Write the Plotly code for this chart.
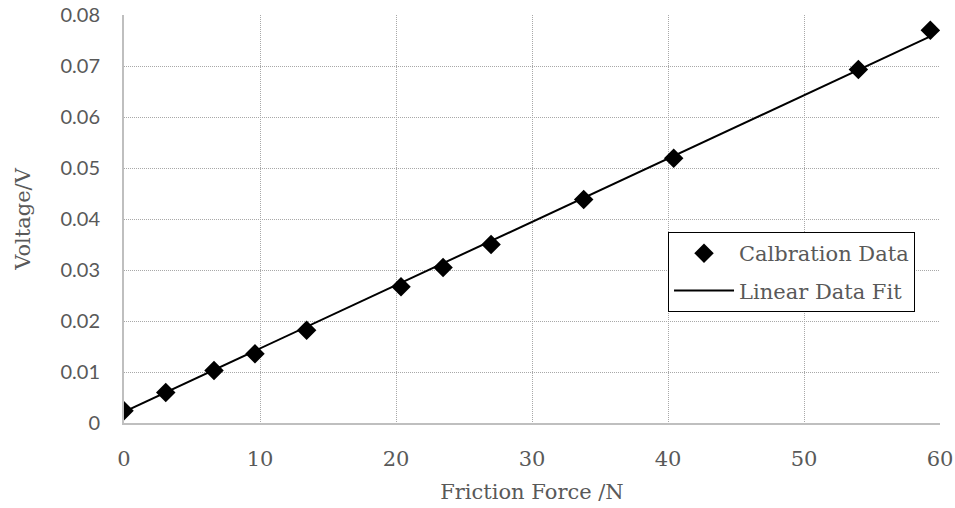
import plotly.graph_objects as go

force_n = [0.0, 3.07, 6.62, 9.63, 13.43, 20.37, 23.46, 26.99, 33.80, 40.42, 54.0, 59.29]
voltage_v = [0.0024, 0.0060, 0.0103, 0.0136, 0.0182, 0.0267, 0.0305, 0.0350, 0.0438, 0.0519, 0.0693, 0.0770]

fit_x = [0.0, 59.29]
fit_y = [0.0022, 0.0758]

x_ticks = [0, 10, 20, 30, 40, 50, 60]
y_ticks = [0, 0.01, 0.02, 0.03, 0.04, 0.05, 0.06, 0.07, 0.08]
y_tick_text = ["0", "0.01", "0.02", "0.03", "0.04", "0.05", "0.06", "0.07", "0.08"]

serif = "DejaVu Serif"
grey = "#595959"

fig = go.Figure()
fig.add_trace(go.Scatter(
    x=force_n, y=voltage_v, mode="markers", name="Calbration Data",
    legendgroup="a",
    marker=dict(symbol="diamond", size=15, color="black"),
))
fig.add_trace(go.Scatter(
    x=fit_x, y=fit_y, mode="lines", name="Linear Data Fit",
    legendgroup="b",
    line=dict(color="black", width=2),
))

fig.update_layout(
    width=955, height=508,
    margin=dict(l=124, r=15, t=15, b=85, autoexpand=False),
    plot_bgcolor="white", paper_bgcolor="white",
    showlegend=True,
    legend=dict(
        x=0.6667, y=0.468, xanchor="left", yanchor="top",
        bordercolor="black", borderwidth=1, bgcolor="white",
        font=dict(family=serif, size=21, color=grey),
        itemwidth=60, tracegroupgap=7,
    ),
)
fig.update_xaxes(
    range=[0, 60], tickvals=x_ticks, ticktext=[str(v) for v in x_ticks],
    showgrid=True, gridcolor="#a8a8a8", griddash="1px,1px", gridwidth=1,
    showline=True, linecolor="#bfbfbf", linewidth=2,
    ticks="outside", ticklen=0, ticklabelstandoff=16,
    ticklabeloverflow="allow", automargin=False,
    tickfont=dict(family=serif, size=21, color=grey),
    title=dict(text="Friction Force /N", font=dict(family=serif, size=21, color=grey), standoff=14),
    zeroline=False,
)
fig.update_yaxes(
    range=[0, 0.08], tickvals=y_ticks, ticktext=y_tick_text,
    showgrid=True, gridcolor="#a8a8a8", griddash="1px,1px", gridwidth=1,
    showline=True, linecolor="#bfbfbf", linewidth=2,
    ticks="outside", ticklen=0, ticklabelstandoff=18,
    ticklabeloverflow="allow", automargin=False,
    tickfont=dict(family="Lato", size=20, color=grey),
    title=dict(text="Voltage/V", font=dict(family=serif, size=21, color=grey), standoff=24),
    zeroline=False,
)

fig.write_html("out.html")
